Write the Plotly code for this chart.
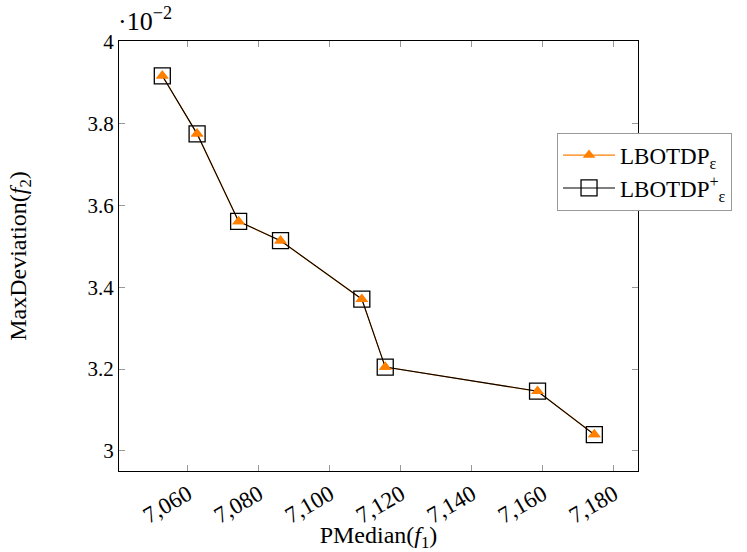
import plotly.graph_objects as go

# PMedian(f1) values
pmedian = [7052.8, 7062.6, 7074.3, 7086.1, 7109.0, 7115.6, 7158.5, 7174.5]
# MaxDeviation(f2) values, in units of 1e-2
maxdev = [3.917, 3.775, 3.561, 3.514, 3.371, 3.205, 3.146, 3.040]

x_ticks = [7060, 7080, 7100, 7120, 7140, 7160, 7180]
x_tick_text = ["7,060", "7,080", "7,100", "7,120", "7,140", "7,160", "7,180"]
y_ticks = [3.0, 3.2, 3.4, 3.6, 3.8, 4.0]
y_tick_text = ["3", "3.2", "3.4", "3.6", "3.8", "4"]

series_names = ["LBOTDP<sub>ε</sub>", "LBOTDP<sup>+</sup><sub>ε</sub>"]

ORANGE = "#ff8000"
FONT = "Liberation Serif, Times New Roman, serif"

fig = go.Figure()
fig.add_trace(go.Scatter(
    x=pmedian, y=maxdev, mode="lines+markers", name=series_names[0],
    line=dict(color=ORANGE, width=1.2),
    marker=dict(symbol="triangle-up", size=11, color=ORANGE),
))
fig.add_trace(go.Scatter(
    x=pmedian, y=maxdev, mode="lines+markers", name=series_names[1],
    line=dict(color="black", width=1.1),
    marker=dict(symbol="square-open", size=16, color="black", line=dict(width=1.3)),
))
fig.add_trace(go.Scatter(
    x=pmedian, y=maxdev, mode="markers", showlegend=False,
    marker=dict(symbol="triangle-up", size=11, color=ORANGE),
))

axis_common = dict(
    showline=True, linecolor="black", linewidth=1, mirror="ticks",
    ticks="inside", ticklen=6, tickcolor="#999999", tickwidth=1,
    showgrid=False, zeroline=False,
)

fig.update_layout(
    width=747, height=552,
    paper_bgcolor="white", plot_bgcolor="white",
    margin=dict(l=119, r=109, t=41, b=81, autoexpand=False),
    font=dict(family=FONT, color="black"),
    xaxis=dict(
        range=[7040.6, 7186.8], tickvals=x_ticks, ticktext=x_tick_text,
        tickangle=-30,
        tickfont=dict(family=FONT, size=23, color="black"),
        title=dict(text="PMedian(<i>f</i><sub>1</sub>)", font=dict(family=FONT, size=24), standoff=0),
        **axis_common,
    ),
    yaxis=dict(
        range=[2.951, 4.002], tickvals=y_ticks, ticktext=y_tick_text,
        tickfont=dict(family=FONT, size=21, color="black"),
        title=dict(text="MaxDeviation(<i>f</i><sub>2</sub>)", font=dict(family=FONT, size=24), standoff=54),
        **axis_common,
    ),
    legend=dict(
        x=0.844, y=0.787, xanchor="left", yanchor="top",
        bgcolor="white", bordercolor="#999999", borderwidth=1,
        font=dict(family=FONT, size=23, color="black"),
        itemwidth=52, tracegroupgap=2,
    ),
    annotations=[dict(
        text="·10<sup>−2</sup>", xref="paper", yref="paper", x=0.0, y=1.0,
        xanchor="left", yanchor="bottom", showarrow=False, yshift=3, xshift=-3,
        font=dict(family=FONT, size=26, color="black"),
    )],
)

fig.write_html("out.html")
